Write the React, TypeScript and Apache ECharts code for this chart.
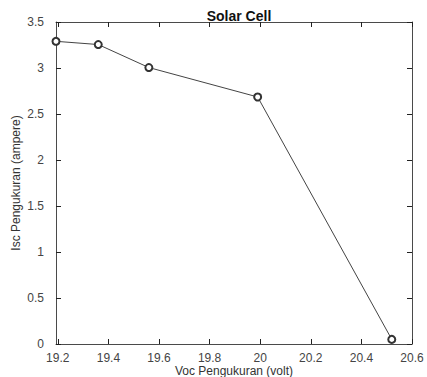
import React, { useEffect, useRef } from "react";
import * as echarts from "echarts";

const vocValues = [19.193, 19.36, 19.56, 19.99, 20.52];
const iscValues = [3.29, 3.255, 3.005, 2.685, 0.05];
const xTicks = [19.2, 19.4, 19.6, 19.8, 20, 20.2, 20.4, 20.6];
const yTicks = [0, 0.5, 1, 1.5, 2, 2.5, 3, 3.5];

export default function App() {
  const ref = useRef<HTMLDivElement>(null);
  useEffect(() => {
    const chart = echarts.init(ref.current!, undefined, { renderer: "svg" });
    const font = "Arial, 'Liberation Sans', sans-serif";
    const axisLine = { show: true, onZero: false, lineStyle: { color: "#4a4a4a", width: 1 } };
    chart.setOption({
      animation: false,
      backgroundColor: "#ffffff",
      title: {
        text: "Solar Cell",
        left: 234,
        textAlign: "center",
        top: 4,
        textStyle: { fontFamily: font, fontSize: 14, fontWeight: "bold", color: "#111" },
      },
      grid: { left: 56, right: 15, top: 22, bottom: 33, outerBoundsMode: "none", containLabel: false },
      xAxis: [
        {
          type: "value",
          min: 19.193,
          max: 20.6,
          axisLine,
          splitLine: { show: false },
          axisTick: { show: true, inside: true, length: 5, customValues: xTicks, lineStyle: { color: "#222" } },
          axisLabel: {
            customValues: xTicks,
            margin: 8,
            lineHeight: 12,
            fontFamily: font,
            fontSize: 12,
            color: "#444",
            formatter: (v: number) => String(Math.round(v * 10) / 10),
          },
          name: "Voc Pengukuran (volt)",
          nameLocation: "middle",
          nameGap: 21,
          nameMoveOverlap: false,
          nameTextStyle: { fontFamily: font, fontSize: 12, lineHeight: 12, color: "#333" },
        },
        {
          type: "value",
          position: "top",
          min: 19.193,
          max: 20.6,
          axisLine,
          splitLine: { show: false },
          axisTick: { show: true, inside: true, length: 5, customValues: xTicks, lineStyle: { color: "#222" } },
          axisLabel: { show: false },
        },
      ],
      yAxis: [
        {
          type: "value",
          min: 0,
          max: 3.5,
          interval: 0.5,
          axisLine,
          splitLine: { show: false },
          axisTick: { show: true, inside: true, length: 5, lineStyle: { color: "#222" } },
          axisLabel: {
            margin: 12,
            fontFamily: font,
            fontSize: 12,
            color: "#444",
            formatter: (v: number) => (yTicks.includes(v) ? String(v) : ""),
          },
          name: "Isc Pengukuran (ampere)",
          nameLocation: "middle",
          nameGap: 34,
          nameMoveOverlap: false,
          nameTextStyle: { fontFamily: font, fontSize: 12, color: "#333" },
        },
        {
          type: "value",
          position: "right",
          min: 0,
          max: 3.5,
          interval: 0.5,
          axisLine,
          splitLine: { show: false },
          axisTick: { show: true, inside: true, length: 5, lineStyle: { color: "#222" } },
          axisLabel: { show: false },
        },
      ],
      series: [
        {
          type: "line",
          data: vocValues.map((v, i) => [v, iscValues[i]]),
          symbol: "emptyCircle",
          symbolSize: 7,
          lineStyle: { color: "#444", width: 1 },
          itemStyle: { color: "#333", borderColor: "#333", borderWidth: 1.2 },
        },
      ],
    });
    return () => chart.dispose();
  }, []);
  return <div ref={ref} style={{ width: 427, height: 377, position: "absolute", left: 0, top: 0 }} />;
}
